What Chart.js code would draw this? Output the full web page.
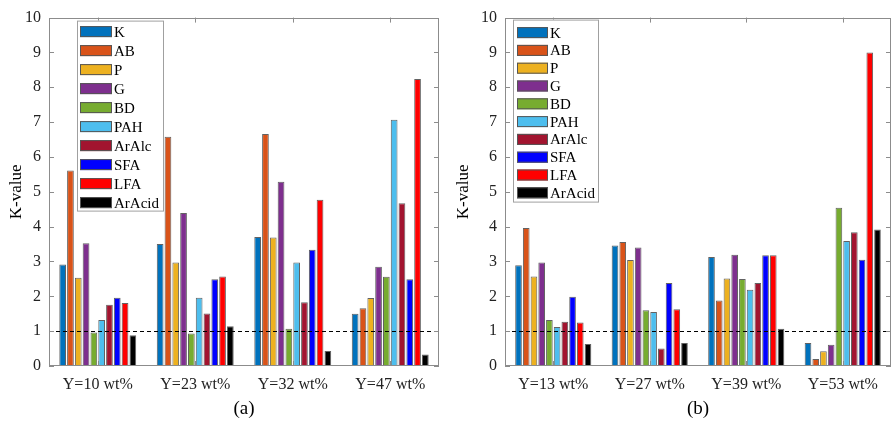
<!DOCTYPE html>
<html>
<head>
<meta charset="utf-8">
<script src="https://cdn.jsdelivr.net/npm/chart.js@4.4.1/dist/chart.umd.min.js"></script>
<style>
  body { margin: 0; background: #fff; width: 894px; height: 423px; overflow: hidden; display: flex; }
  .box { position: relative; width: 447px; height: 423px; }
</style>
</head>
<body>
<div class="box"><canvas id="chartA"></canvas></div>
<div class="box"><canvas id="chartB"></canvas></div>
<script>
const series = ['K', 'AB', 'P', 'G', 'BD', 'PAH', 'ArAlc', 'SFA', 'LFA', 'ArAcid'];
const colors = ['#0072BD', '#D95319', '#EDB120', '#7E2F8E', '#77AC30', '#4DBEEE', '#A2142F', '#0000FF', '#FF0000', '#000000'];

const groupsA = ['Y=10 wt%', 'Y=23 wt%', 'Y=32 wt%', 'Y=47 wt%'];
const groupsB = ['Y=13 wt%', 'Y=27 wt%', 'Y=39 wt%', 'Y=53 wt%'];

// one row per series (same order as `series`), one value per group
const valuesA = [
    [2.91, 3.50, 3.70, 1.50],
    [5.61, 6.58, 6.66, 1.66],
    [2.53, 2.97, 3.69, 1.95],
    [3.52, 4.39, 5.29, 2.85],
    [0.96, 0.93, 1.07, 2.56],
    [1.32, 1.96, 2.97, 7.07],
    [1.76, 1.51, 1.83, 4.67],
    [1.96, 2.49, 3.34, 2.49],
    [1.81, 2.57, 4.77, 8.24],
    [0.88, 1.14, 0.43, 0.33]
];
const valuesB = [
    [2.89, 3.46, 3.13, 0.66],
    [3.96, 3.56, 1.88, 0.20],
    [2.57, 3.04, 2.51, 0.42],
    [2.97, 3.40, 3.19, 0.61],
    [1.32, 1.60, 2.50, 4.54],
    [1.12, 1.55, 2.19, 3.59],
    [1.27, 0.50, 2.38, 3.84],
    [1.99, 2.38, 3.18, 3.05],
    [1.25, 1.63, 3.18, 9.00],
    [0.63, 0.66, 1.07, 3.92]
];

const refLine = 1;
const yTicks = [0, 1, 2, 3, 4, 5, 6, 7, 8, 9, 10];
const serif = 'Liberation Serif';

// box, inner ticks, dashed reference line and legend drawn inside the axes
const framePlugin = {
    id: 'frame',
    afterDatasetsDraw(chart, args, opts) {
        const { ctx, chartArea: a, scales: { x, y } } = chart;
        ctx.save();
        const yy = Math.round(y.getPixelForValue(refLine)) + 0.5;
        ctx.strokeStyle = '#000';
        ctx.lineWidth = 1.2;
        ctx.setLineDash([4, 3]);
        ctx.beginPath();
        ctx.moveTo(a.left, yy);
        ctx.lineTo(a.right, yy);
        ctx.stroke();
        ctx.setLineDash([]);

        ctx.strokeStyle = '#8c8c8c';
        ctx.lineWidth = 1;
        ctx.strokeRect(Math.round(a.left) + 0.5, Math.round(a.top) + 0.5,
            Math.round(a.right - a.left) - 1, Math.round(a.bottom - a.top) - 1);
        ctx.beginPath();
        y.ticks.forEach(t => {
            const p = Math.round(y.getPixelForValue(t.value)) + 0.5;
            ctx.moveTo(a.left, p); ctx.lineTo(a.left + 5, p);
            ctx.moveTo(a.right, p); ctx.lineTo(a.right - 5, p);
        });
        x.ticks.forEach((t, i) => {
            const p = Math.round(x.getPixelForTick(i)) + 0.5;
            ctx.moveTo(p, a.top); ctx.lineTo(p, a.top + 5);
            ctx.moveTo(p, a.bottom); ctx.lineTo(p, a.bottom - 5);
        });
        ctx.stroke();

        // legend
        const lx = a.left + opts.dx, ly = a.top + opts.dy;
        ctx.fillStyle = '#fff';
        ctx.fillRect(lx, ly, opts.w, opts.h);
        ctx.strokeStyle = '#a0a0a0';
        ctx.strokeRect(lx + 0.5, ly + 0.5, opts.w, opts.h);
        ctx.font = '15px "' + serif + '"';
        ctx.textBaseline = 'middle';
        chart.data.datasets.forEach((ds, i) => {
            const cy = ly + opts.first + i * opts.pitch;
            ctx.fillStyle = ds.backgroundColor;
            ctx.fillRect(lx + opts.px, cy - 5.5, opts.pw, 11);
            ctx.strokeStyle = '#555';
            ctx.strokeRect(lx + opts.px + 0.5, cy - 5.5 + 0.5, opts.pw - 1, 10);
            ctx.fillStyle = '#000';
            ctx.fillText(ds.label, lx + opts.px + opts.pw + 2, cy + 1);
        });
        ctx.restore();
    }
};

function makeChart(id, groups, values, tag, yWidth, pad, legend) {
    const ctx = document.getElementById(id).getContext('2d');
    return new Chart(ctx, {
        type: 'bar',
        data: {
            labels: groups,
            datasets: series.map((name, i) => ({
                label: name,
                data: values[i],
                backgroundColor: colors[i],
                borderColor: 'rgba(70,70,70,0.85)',
                borderWidth: 1,
                categoryPercentage: 0.8,
                barPercentage: 0.86
            }))
        },
        plugins: [framePlugin],
        options: {
            responsive: true,
            maintainAspectRatio: false,
            animation: false,
            layout: { padding: pad },
            plugins: {
                legend: { display: false },
                tooltip: { enabled: false },
                frame: legend
            },
            scales: {
                x: {
                    grid: { display: false, drawTicks: false },
                    border: { display: false },
                    ticks: { color: '#222', font: { family: serif, size: 16 }, padding: 9, maxRotation: 0 },
                    title: { display: true, text: tag, color: '#000', font: { family: serif, size: 19 }, padding: { top: 0, bottom: 3 } },
                    afterFit(scale) { scale.height = 57; }
                },
                y: {
                    min: 0,
                    max: 10,
                    afterBuildTicks(scale) { scale.ticks = yTicks.map(v => ({ value: v })); },
                    grid: { display: false, drawTicks: false },
                    border: { display: false },
                    ticks: { color: '#222', font: { family: serif, size: 16 }, padding: 8 },
                    title: { display: true, text: 'K-value', color: '#000', font: { family: serif, size: 17 }, padding: 0 },
                    afterFit(scale) { scale.width = yWidth; }
                }
            }
        }
    });
}

document.addEventListener('DOMContentLoaded', function() {
    makeChart('chartA', groupsA, valuesA, '(a)', 43, { top: 15, right: 8, left: 6, bottom: 0 },
        { dx: 28, dy: 3, w: 86, h: 190, px: 3, pw: 32, first: 11, pitch: 19 });
    makeChart('chartB', groupsB, valuesB, '(b)', 52, { top: 16, right: 3, left: 6, bottom: 0 },
        { dx: 8, dy: 2, w: 85, h: 182, px: 4, pw: 31, first: 13, pitch: 17.8 });
});
</script>
</body>
</html>
